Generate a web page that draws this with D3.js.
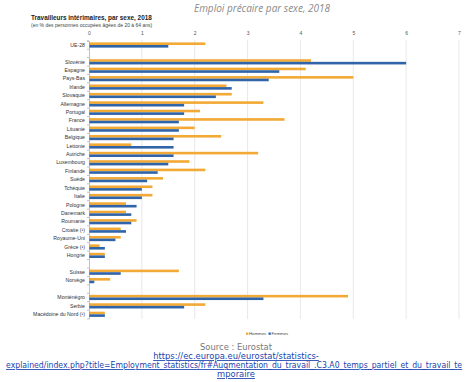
<!DOCTYPE html>
<html><head><meta charset="utf-8">
<script src="https://cdn.jsdelivr.net/npm/d3@7"></script>
<style>
body{margin:0;background:#fff;width:470px;height:382px;overflow:hidden;font-family:"DejaVu Sans",sans-serif;}
</style></head><body>
<svg id="c" width="470" height="382"></svg>
<script>
const categories = ["UE-28","","Slovénie","Espagne","Pays-Bas","Irlande","Slovaquie","Allemagne","Portugal","France","Lituanie","Belgique","Lettonie","Autriche","Luxembourg","Finlande","Suède","Tchéquie","Italie","Pologne","Danemark","Roumanie","Croatie (¹)","Royaume-Uni","Grèce (¹)","Hongrie"," ","Suisse","Norvège","  ","Monténégro","Serbie","Macédoine du Nord (¹)"];
const hommes = [2.2,null,4.2,4.1,5.0,2.6,2.7,3.3,2.1,3.7,2.0,2.5,0.8,3.2,1.9,2.2,1.4,1.2,1.2,0.7,0.7,0.9,0.6,0.6,0.2,0.3,null,1.7,0.4,null,4.9,2.2,0.3];
const femmes = [1.5,null,6.0,3.6,3.4,2.7,2.4,1.8,1.8,1.7,1.7,1.6,1.6,1.6,1.5,1.3,1.1,1.0,1.0,0.9,0.8,0.8,0.7,0.5,0.3,0.3,null,0.6,0.1,null,3.3,1.8,0.3];
const ticks = [0,1,2,3,4,5,6,7];
const seriesNames = ["Hommes","Femmes"];
const colors = ["#f2a935","#2f64a8"];

const svg = d3.select("#c");
svg.append("text").attr("x",262).attr("y",12).attr("text-anchor","middle")
  .attr("font-family","Open Sans, sans-serif").attr("font-style","italic").attr("font-size",10).attr("fill","#8a8a8a")
  .text("Emploi précaire par sexe, 2018");
svg.append("text").attr("x",31).attr("y",20).attr("font-family","Liberation Sans, Arial, sans-serif")
  .attr("font-weight","bold").attr("font-size",6.4).attr("fill","#222").text("Travailleurs intérimaires, par sexe, 2018");
svg.append("text").attr("x",31).attr("y",26.5).attr("font-family","Liberation Sans, Arial, sans-serif")
  .attr("font-size",5).attr("fill","#444").text("(en % des personnes occupées âgées de 20 à 64 ans)");

const x = d3.scaleLinear().domain([0,7]).range([89,459]);
const y = d3.scaleBand().domain(categories.map((c,i)=>i)).range([40.8,318.5]).paddingInner(0).paddingOuter(0);

const g = svg.append("g");
g.selectAll("line.grid").data(ticks.slice(1)).join("line")
  .attr("x1",d=>x(d)).attr("x2",d=>x(d)).attr("y1",40).attr("y2",319)
  .attr("stroke","#d9d9d9").attr("stroke-width",0.6);
const ax = d3.axisTop(x).tickValues(ticks).tickSize(0).tickFormat(d3.format("d"));
const axg = svg.append("g").attr("transform","translate(0,39)").call(ax);
axg.select(".domain").remove();
axg.selectAll("text").attr("font-size",5).attr("fill","#555").attr("font-family","Liberation Sans, Arial, sans-serif").attr("dy","-0.2em");

const bw = 2.6;
categories.forEach((c,i)=>{
  const yc = y(i) + y.bandwidth()/2;
  if (hommes[i]!=null) g.append("rect").attr("x",x(0)).attr("y",yc-bw).attr("width",x(hommes[i])-x(0)).attr("height",bw).attr("fill",colors[0]);
  if (femmes[i]!=null) g.append("rect").attr("x",x(0)).attr("y",yc).attr("width",x(femmes[i])-x(0)).attr("height",bw).attr("fill",colors[1]);
});

const ly = d3.axisLeft(y).tickSize(2).tickFormat(i=>categories[i].trim());
const lg = svg.append("g").attr("transform","translate(89,0)").call(ly);
lg.select(".domain").attr("stroke","#999").attr("stroke-width",0.6);
lg.selectAll(".tick line").attr("stroke","#999").attr("stroke-width",0.6)
  .attr("transform",`translate(0,${-y.bandwidth()/2})`);
lg.selectAll("text").attr("font-size",5.2).attr("fill","#333").attr("font-family","Liberation Sans, Arial, sans-serif").attr("x",-4);

const leg = svg.append("g").attr("font-family","Liberation Sans, Arial, sans-serif").attr("font-size",4.3).attr("fill","#444");
const lx = [246,268.5];
seriesNames.forEach((s,i)=>{
  leg.append("rect").attr("x",lx[i]).attr("y",332.5).attr("width",2.3).attr("height",2.3).attr("fill",colors[i]);
  leg.append("text").attr("x",lx[i]+3).attr("y",335).text(s);
});

svg.append("text").attr("x",236).attr("y",350).attr("text-anchor","middle")
  .attr("font-family","DejaVu Sans, Verdana, sans-serif").attr("font-size",8.4).attr("fill","#777").text("Source : Eurostat");
const lines = ["https://ec.europa.eu/eurostat/statistics-","explained/index.php?title=Employment_statistics/fr#Augmentation_du_travail_.C3.A0_temps_partiel_et_du_travail_te","mporaire"];
lines.forEach((t,i)=>{
  const tx = svg.append("text").attr("x",0).attr("y",0).attr("text-anchor",i==1?"start":"middle")
    .attr("font-family","DejaVu Sans, Verdana, sans-serif").attr("font-size",8.4).attr("fill","#1a3fae")
    .attr("text-decoration","underline").text(t);
  if (i==1) {
    const w = tx.node().getComputedTextLength();
    tx.attr("transform",`translate(6,${359+9}) scale(${455/w},1)`);
  } else {
    tx.attr("transform",`translate(236,${359+i*9})`);
  }
});
</script></body></html>
